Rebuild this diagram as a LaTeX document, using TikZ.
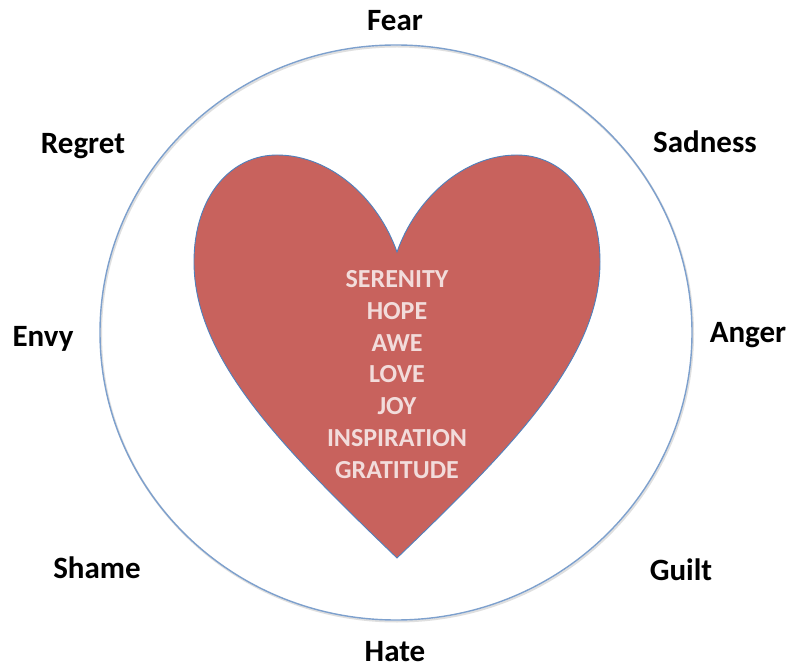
\documentclass[tikz,border=0pt]{standalone}
\usepackage{fontspec}
\setmainfont{Carlito}
\definecolor{heartred}{RGB}{200,98,93}
\definecolor{heartline}{RGB}{79,129,189}
\definecolor{ringblue}{RGB}{125,160,205}
\definecolor{heartText}{RGB}{242,220,219}
\begin{document}
\begin{tikzpicture}[x=1pt,y=-1pt,
  outer/.style={font=\fontsize{31}{37}\selectfont\bfseries, text=black, anchor=base, inner sep=0pt},
  inner/.style={font=\fontsize{26}{31.7}\selectfont\bfseries, text=heartText, align=center, anchor=base, inner sep=0pt}]
\useasboundingbox (0,0) rectangle (790,668);
\fill[white] (0,0) rectangle (790,668);
% outer ring (with soft shadow)
\draw[gray!25, line width=2pt] (397,334) ellipse [x radius=296, y radius=287.5];
\draw[ringblue, line width=1.4pt] (396,332.5) ellipse [x radius=296, y radius=287.5];
% heart
\draw[heartline, line width=0.9pt, fill=heartred]
  (397,558) .. controls (285,450) and (194,360) .. (194,262)
  .. controls (194,195) and (232,155) .. (277,155)
  .. controls (330,155) and (378,198) .. (397,252)
  .. controls (416,198) and (464,155) .. (517,155)
  .. controls (562,155) and (600,195) .. (600,262)
  .. controls (600,360) and (509,450) .. (397,558) -- cycle;
% heart text
\node[inner] (emo) at (397,478) {SERENITY\\HOPE\\AWE\\LOVE\\JOY\\INSPIRATION\\GRATITUDE};
% outer labels
\node[outer] (fear) at (395,31) {Fear};
\node[outer] (regret) at (83,154) {Regret};
\node[outer] (sadness) at (705,153) {Sadness};
\node[outer] (envy) at (43,346) {Envy};
\node[outer] (anger) at (748,343) {Anger};
\node[outer] (shame) at (97,578) {Shame};
\node[outer] (guilt) at (681,580) {Guilt};
\node[outer] (hate) at (395,661) {Hate};
\end{tikzpicture}
\end{document}
